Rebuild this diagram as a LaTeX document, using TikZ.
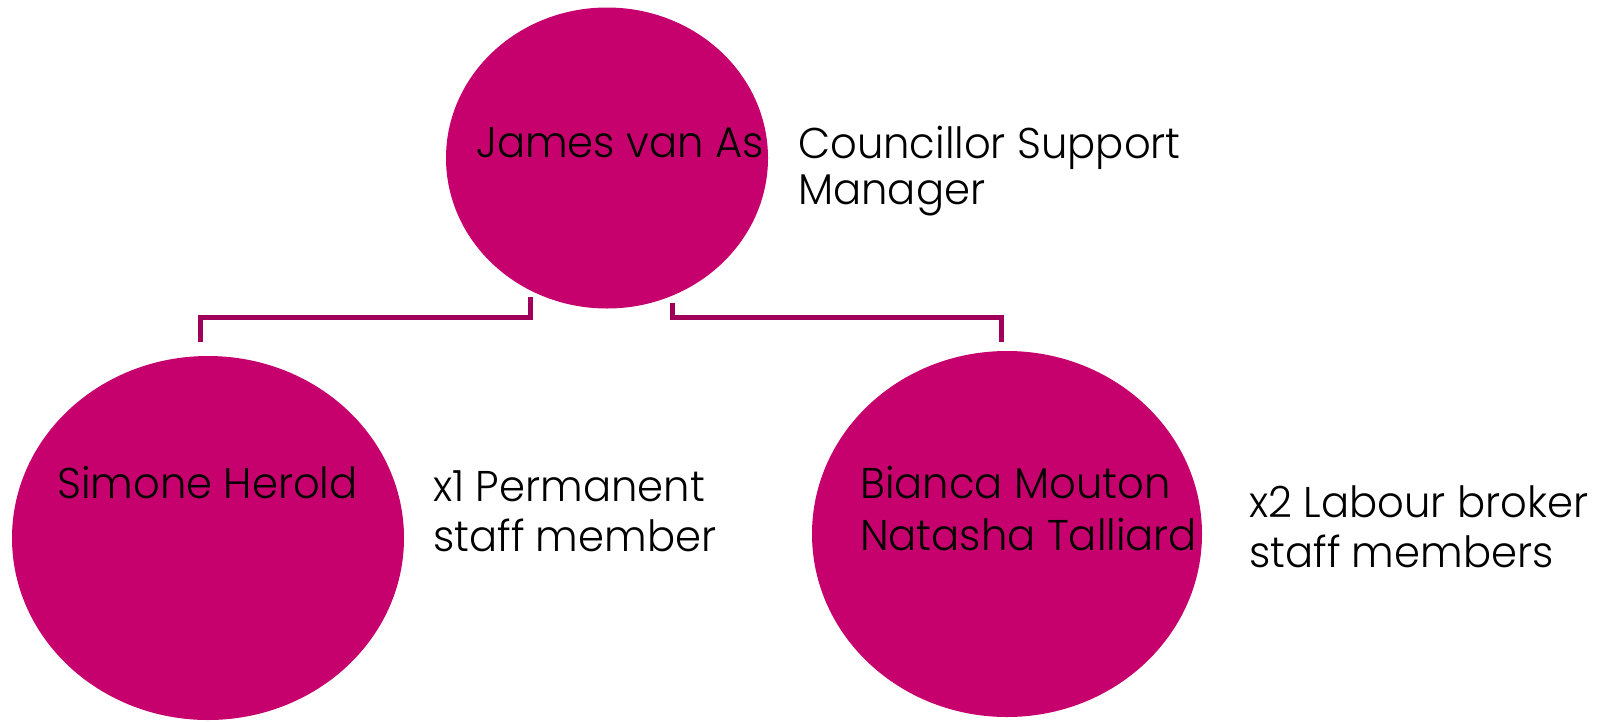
\documentclass[tikz,border=0pt]{standalone}
\usepackage{fontspec}
\setmainfont{Poppins}[UprightFont=* Light, FakeStretch=0.97]
\usetikzlibrary{shapes.geometric}
\definecolor{bubblefill}{HTML}{C6006C}
\definecolor{linkc}{HTML}{A0005A}
\tikzset{
  bubblenode/.style={ellipse, fill=bubblefill, draw=none, inner sep=0pt},
  lbltext/.style={anchor=base west, align=left, text=black, inner sep=0pt,
    font=\fontsize{43}{50}\selectfont},
  linkline/.style={draw=linkc, line width=5pt, line join=miter}
}
\begin{document}
\begin{tikzpicture}[x=1pt,y=-1pt]
\useasboundingbox (0,0) rectangle (1611,721);
% ellipses
\node[bubblenode, minimum width=322pt, minimum height=301pt] (top) at (607,158) {};
\node[bubblenode, minimum width=392pt, minimum height=364pt] (left) at (208,538) {};
\node[bubblenode, minimum width=390pt, minimum height=366pt] (right) at (1007,534) {};
% connectors
\coordinate (tl) at (530,297);
\coordinate (tr) at (672,303);
\coordinate (ltop) at (200,342);
\coordinate (rtop) at (1001,342);
\draw[linkline] (tl) -- (tl |- 0,317) -- (ltop |- 0,317) -- (ltop);
\draw[linkline] (tr) -- (tr |- 0,317) -- (rtop |- 0,317) -- (rtop);
% texts (base = baseline of the last line)
\node[lbltext] (tname) at (476,157) {James van As};
\node[lbltext, font=\fontsize{43}{46}\selectfont] (trole) at (798,204) {Councillor Support\\Manager};
\node[lbltext] (lname) at (57,498) {Simone Herold};
\node[lbltext] (lrole) at (433,551) {x1 Permanent\\staff member};
\node[lbltext, font=\fontsize{43}{52}\selectfont] (rname) at (860,550) {Bianca Mouton\\Natasha Talliard};
\node[lbltext] (rrole) at (1249,567) {x2 Labour broker\\staff members};
\end{tikzpicture}
\end{document}
